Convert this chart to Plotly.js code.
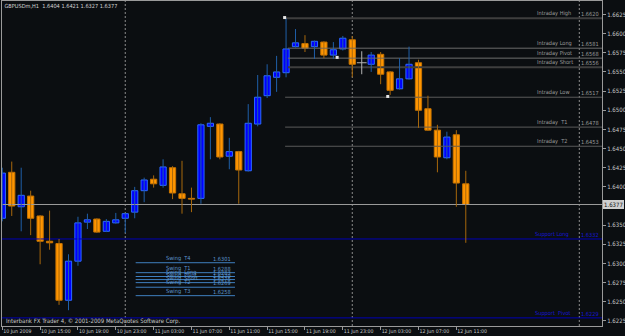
<!DOCTYPE html>
<html><head><meta charset="utf-8">
<script src="https://cdn.plot.ly/plotly-3.0.1.min.js"></script>
<style>html,body{margin:0;padding:0;background:#0b0e11;}#chart{width:625px;height:336px;}</style>
</head><body><div id="chart"></div>
<script>
// ---------- data ----------
const symbolName = 'GBPUSDm,H1';
const barIdx = [0,1,2,3,4,5,6,7,8,9,10,11,12,13,14,15,16,17,18,19,20,21,22,23,24,25,26,27,28,29,30,31,32,33,34,35,36,37,38,39,40,41,42,43,44,45,46,47,48,49];
const openP  = [1.6359,1.6419,1.6374,1.6388,1.6362,1.6329,1.6326,1.6252,1.6303,1.6354,1.6358,1.6342,1.6353,1.6359,1.6367,1.6395,1.6410,1.6402,1.6425,1.6391,1.6385,1.6385,1.6479,1.6482,1.6440,1.6446,1.6421,1.6482,1.6519,1.6543,1.6549,1.6583,1.6587,1.6583,1.6589,1.6572,1.6580,1.6592,1.6562,1.6560,1.6573,1.6550,1.6528,1.6541,1.6562,1.6502,1.6474,1.6438,1.6468,1.6404];
const highP  = [1.6425,1.6433,1.6425,1.6395,1.6363,1.6369,1.6332,1.6312,1.6361,1.6365,1.6359,1.6358,1.6366,1.6366,1.6400,1.6412,1.6415,1.6436,1.6427,1.6434,1.6399,1.6483,1.6491,1.6483,1.6464,1.6447,1.6508,1.6546,1.6560,1.6571,1.6620,1.6606,1.6598,1.6591,1.6590,1.6589,1.6597,1.6597,1.6577,1.6576,1.6576,1.6551,1.6568,1.6583,1.6566,1.6519,1.6481,1.6472,1.6474,1.6421];
const lowP   = [1.6355,1.6362,1.6342,1.6337,1.6299,1.6318,1.6246,1.6239,1.6297,1.6345,1.6340,1.6341,1.6352,1.6340,1.6359,1.6380,1.6399,1.6399,1.6384,1.6365,1.6367,1.6378,1.6436,1.6436,1.6423,1.6378,1.6420,1.6479,1.6516,1.6524,1.6543,1.6582,1.6576,1.6567,1.6568,1.6567,1.6578,1.6543,1.6547,1.6550,1.6534,1.6520,1.6527,1.6540,1.6477,1.6473,1.6419,1.6436,1.6374,1.6327];
const closeP = [1.6418,1.6375,1.6389,1.6359,1.6329,1.6327,1.6252,1.6303,1.6353,1.6357,1.6341,1.6355,1.6357,1.6365,1.6395,1.6409,1.6404,1.6426,1.6392,1.6385,1.6384,1.6481,1.6483,1.6439,1.6446,1.6422,1.6483,1.6517,1.6545,1.6550,1.6580,1.6588,1.6581,1.6590,1.6572,1.6579,1.6594,1.6560,1.6562,1.6572,1.6547,1.6526,1.6541,1.6560,1.6500,1.6474,1.6439,1.6465,1.6405,1.6377];

const tickIdx  = [0,4,8,12,16,20,24,28,32,36,40,44,48];
const tickText = ['10 Jun 2009','10 Jun 15:00','10 Jun 19:00','10 Jun 23:00','11 Jun 03:00','11 Jun 07:00','11 Jun 11:00','11 Jun 15:00','11 Jun 19:00','11 Jun 23:00','12 Jun 03:00','12 Jun 07:00','12 Jun 11:00'];
const priceTicks = [1.6225,1.6250,1.6275,1.6300,1.6325,1.6350,1.6400,1.6425,1.6450,1.6475,1.6500,1.6525,1.6550,1.6575,1.6600,1.6625];
const dayStartIdx = [13,37,61];

const levelNames  = ['Intraday High','Intraday Long','Intraday Pivot','Intraday Short','Intraday Low','Intraday  T1','Intraday  T2'];
const levelValues = [1.6620,1.6581,1.6568,1.6556,1.6517,1.6478,1.6453];
const levelStartIdx = [29.9,30.2,30.2,30.2,29.9,29.9,29.9];

const supportNames  = ['Support Long','Support  Pivot'];
const supportValues = [1.6332,1.6229];

const swingNames  = ['Swing  T4','Swing  T1','Swing  Long','Swing  Pivot','Swing  Short','Swing  T2','Swing  T3'];
const swingValues = [1.6301,1.6288,1.6283,1.6279,1.6275,1.6269,1.6258];
const swingFromIdx = 14.1, swingToIdx = 24.6;

const markIdx   = [29.85,35.4,40.75];
const markPrice = [1.6621,1.6569,1.6518];

const copyrightText = 'Interbank FX Trader 4, \u00a9 2001-2009 MetaQuotes Software Corp.';

// ---------- styles ----------
const FONT = '"DejaVu Sans Condensed","Liberation Sans Narrow",sans-serif';
const BG = '#0b0e11';
const X_RANGE = [-0.03, 63.4];
const Y_RANGE = [1.62184, 1.66426];
const LBL = 5.6;
const NAME_X = 56.4, VALUE_X = 63.15;
const levelColors = ['#3e3e3e','#6a6a6a','#6e6e6e','#3e3e3e','#5a5a5a','#5a5a5a','#5a5a5a'];
const levelWidths = [2,1,1,2,1,1,1];

const last = closeP.length - 1;
const traces = [];

levelValues.forEach((v,k)=>{
  traces.push({type:'scatter',mode:'lines',x:[levelStartIdx[k],X_RANGE[1]],y:[v,v],
    line:{color:levelColors[k],width:levelWidths[k]},hoverinfo:'skip'});
});
supportValues.forEach(v=>{
  traces.push({type:'scatter',mode:'lines',x:[X_RANGE[0],X_RANGE[1]],y:[v,v],
    line:{color:'#0000b4',width:1},hoverinfo:'skip'});
});
swingValues.forEach(v=>{
  traces.push({type:'scatter',mode:'lines',x:[swingFromIdx,swingToIdx],y:[v,v],
    line:{color:'#3f7fbf',width:1},hoverinfo:'skip'});
});
traces.push({type:'scatter',mode:'lines',x:[X_RANGE[0],X_RANGE[1]],y:[closeP[last],closeP[last]],
  line:{color:'#9c9c9c',width:1},hoverinfo:'skip'});

const up = barIdx.filter(i=>closeP[i]>openP[i]);
const dn = barIdx.filter(i=>closeP[i]<openP[i]);
const dj = barIdx.filter(i=>closeP[i]===openP[i]);
function wicks(idx){const x=[],y=[];idx.forEach(i=>{x.push(i,i,null);y.push(lowP[i],highP[i],null);});return {x,y};}
const wu = wicks(up), wd = wicks(dn), wj = wicks(dj);
traces.push({type:'scatter',mode:'lines',x:wu.x,y:wu.y,line:{color:'#1f5fa8',width:1},hoverinfo:'skip'});
traces.push({type:'scatter',mode:'lines',x:wd.x,y:wd.y,line:{color:'#a8680c',width:1},hoverinfo:'skip'});
traces.push({type:'scatter',mode:'lines',x:wj.x,y:wj.y,line:{color:'#b4b4b4',width:1},hoverinfo:'skip'});
traces.push({type:'bar',x:up,base:up.map(i=>openP[i]),y:up.map(i=>closeP[i]-openP[i]),width:0.66,
  marker:{color:'#0000ff',line:{color:'#2d6cff',width:1}},hoverinfo:'skip'});
traces.push({type:'bar',x:dn,base:dn.map(i=>closeP[i]),y:dn.map(i=>openP[i]-closeP[i]),width:0.66,
  marker:{color:'#ff9500',line:{color:'#c87400',width:1}},hoverinfo:'skip'});
traces.push({type:'scatter',mode:'markers',x:dj,y:dj.map(i=>closeP[i]),
  marker:{symbol:'line-ew',size:7,line:{color:'#b4b4b4',width:1}},hoverinfo:'skip'});
traces.push({type:'scatter',mode:'markers',x:markIdx,y:markPrice,
  marker:{symbol:'square',size:3,color:'#e6e6e6'},hoverinfo:'skip'});

const ann = [];
function lab(x,y,text,color,anchor){
  ann.push({x:x,y:y,xref:'x',yref:'y',text:text,showarrow:false,xanchor:anchor||'left',yanchor:'bottom',
    font:{family:FONT,size:LBL,color:color},borderpad:0});
}
levelNames.forEach((n,k)=>{ lab(NAME_X,levelValues[k],n,'#9a9a9a'); lab(VALUE_X,levelValues[k],levelValues[k].toFixed(4),'#9a9a9a','right'); });
supportNames.forEach((n,k)=>{ lab(NAME_X-0.2,supportValues[k],n,'#1616d6'); lab(VALUE_X,supportValues[k],supportValues[k].toFixed(4),'#1616d6','right'); });
swingNames.forEach((n,k)=>{ lab(17.2,swingValues[k],n,'#5e95cc'); lab(22.2,swingValues[k],swingValues[k].toFixed(4),'#5e95cc'); });
ann.push({x:1,xref:'paper',y:closeP[last],yref:'y',text:closeP[last].toFixed(4),showarrow:false,xanchor:'left',yanchor:'middle',
  font:{family:FONT,size:6,color:'#101010'},bgcolor:'#cfcfcf',borderwidth:0,borderpad:1,xshift:1});
ann.push({x:0,xref:'paper',y:0.0154,yref:'paper',text:copyrightText,showarrow:false,xanchor:'left',yanchor:'middle',
  font:{family:FONT,size:6,color:'#c8c8c8'},xshift:2});

const shapes = dayStartIdx.map(d=>({type:'line',xref:'x',yref:'paper',x0:d,x1:d,y0:0,y1:1,
  line:{color:'#8c8c8c',width:1,dash:'2px,2px'},layer:'below'}));

const layout = {
  width:625,height:336,
  margin:{l:2,r:23,t:1,b:10,pad:0},
  paper_bgcolor:BG,plot_bgcolor:BG,
  showlegend:false,barmode:'overlay',bargap:0,hovermode:false,
  font:{family:FONT,size:LBL,color:'#c8c8c8'},
  title:{text:symbolName+'  '+[openP[last],highP[last],lowP[last],closeP[last]].map(v=>v.toFixed(4)).join(' '),
    x:0.007,xanchor:'left',y:0.982,yanchor:'middle',font:{family:FONT,size:LBL,color:'#d4d4d4'}},
  xaxis:{range:X_RANGE,showgrid:false,zeroline:false,showline:true,mirror:true,linecolor:'#9a9a9a',linewidth:1,
    tickmode:'array',tickvals:tickIdx,ticktext:tickText,ticks:'outside',ticklen:3,tickcolor:'#9a9a9a',tickangle:0,
    ticklabelposition:'outside right',ticklabelstandoff:0,tickfont:{family:FONT,size:5.2,color:'#c8c8c8'},fixedrange:true},
  yaxis:{range:Y_RANGE,side:'right',showgrid:false,zeroline:false,showline:true,mirror:true,linecolor:'#9a9a9a',linewidth:1,
    tickmode:'array',tickvals:priceTicks,ticktext:priceTicks.map(v=>v.toFixed(4)),ticks:'outside',ticklen:3,tickcolor:'#9a9a9a',
    tickfont:{family:FONT,size:6,color:'#c8c8c8'},fixedrange:true},
  annotations:ann,shapes:shapes
};
Plotly.newPlot('chart',traces,layout,{staticPlot:true,displayModeBar:false});
</script></body></html>
